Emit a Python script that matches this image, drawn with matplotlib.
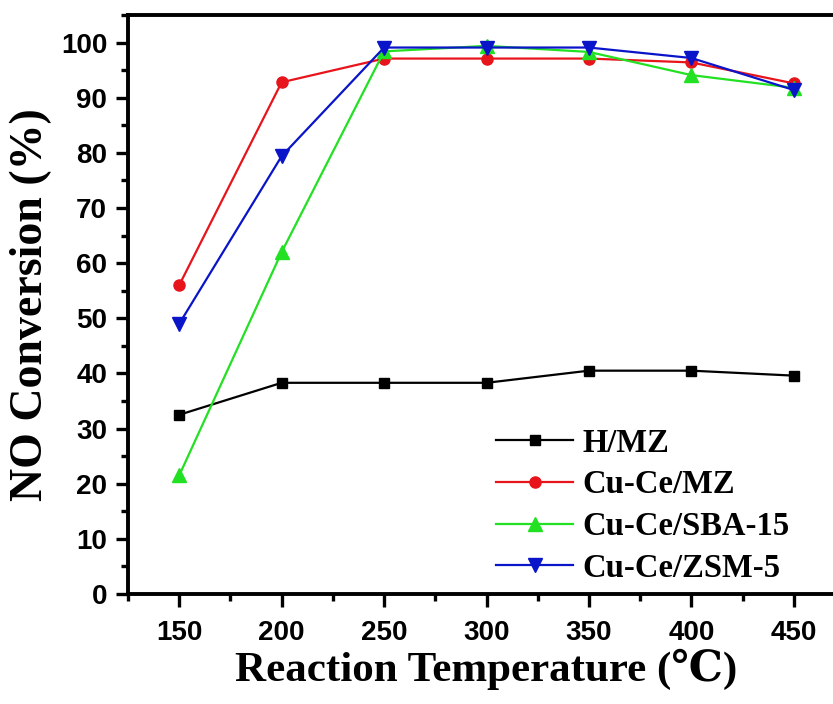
import numpy as np
import matplotlib
matplotlib.use('Agg')
import matplotlib.pyplot as plt
from matplotlib.ticker import MultipleLocator

# 数据
temps = [150, 200, 250, 300, 350, 400, 450]
h_mz = [32.5, 38.3, 38.3, 38.3, 40.5, 40.5, 39.6]
cuce_mz = [56.0, 92.8, 97.1, 97.1, 97.1, 96.4, 92.6]
cuce_sba15 = [21.5, 62.0, 98.4, 99.4, 98.3, 94.1, 91.8]
cuce_zsm5 = [49.0, 79.4, 99.1, 99.1, 99.1, 97.2, 91.4]

series_names = ['H/MZ', 'Cu-Ce/MZ', 'Cu-Ce/SBA-15', 'Cu-Ce/ZSM-5']

fig = plt.figure(figsize=(8.33, 7.04), dpi=100)
# 右边框在原图中被裁掉，所以坐标轴伸出画布
ax = fig.add_axes([128 / 833, 110 / 704, 717 / 833, 579 / 704])

ax.plot(temps, h_mz, color='black', marker='s', markersize=7.5, lw=1.6, label=series_names[0])
ax.plot(temps, cuce_mz, color='#e8141c', marker='o', markersize=8, lw=1.6, label=series_names[1])
ax.plot(temps, cuce_sba15, color='#22e022', marker='^', markersize=9.5, lw=1.6, label=series_names[2])
ax.plot(temps, cuce_zsm5, color='#0a14c8', marker='v', markersize=9.5, lw=1.6, label=series_names[3])

ax.set_xlim(125, 475)
ax.set_ylim(0, 105)
ax.xaxis.set_major_locator(MultipleLocator(50))
ax.xaxis.set_minor_locator(MultipleLocator(25))
ax.yaxis.set_major_locator(MultipleLocator(10))
ax.yaxis.set_minor_locator(MultipleLocator(5))

for sp in ax.spines.values():
    sp.set_linewidth(2.8)
ax.tick_params(which='major', direction='out', length=9, width=2.4, pad=6)
ax.tick_params(which='minor', direction='out', length=5, width=2.4)
ax.tick_params(axis='x', which='major', pad=10)
ax.tick_params(top=False, right=False)

for lab in ax.get_xticklabels() + ax.get_yticklabels():
    lab.set_fontfamily('Liberation Sans')
    lab.set_fontweight('bold')
    lab.set_fontsize(20)

ax.set_xlabel('Reaction Temperature (℃)', family=['Liberation Serif', 'DejaVu Serif'],
              fontweight='bold', fontsize=31, labelpad=2)
ax.set_ylabel('NO Conversion (%)', family=['Liberation Serif', 'DejaVu Serif'],
              fontweight='bold', fontsize=33, labelpad=6)

leg = ax.legend(loc='lower left', bbox_to_anchor=(0.4955, -0.005), frameon=False,
                prop={'family': 'Liberation Serif', 'weight': 'bold', 'size': 23.5},
                handlelength=2.35, handletextpad=0.3, labelspacing=0.33,
                borderaxespad=0.0)

plt.savefig('out.png', dpi=100)
plt.close()
